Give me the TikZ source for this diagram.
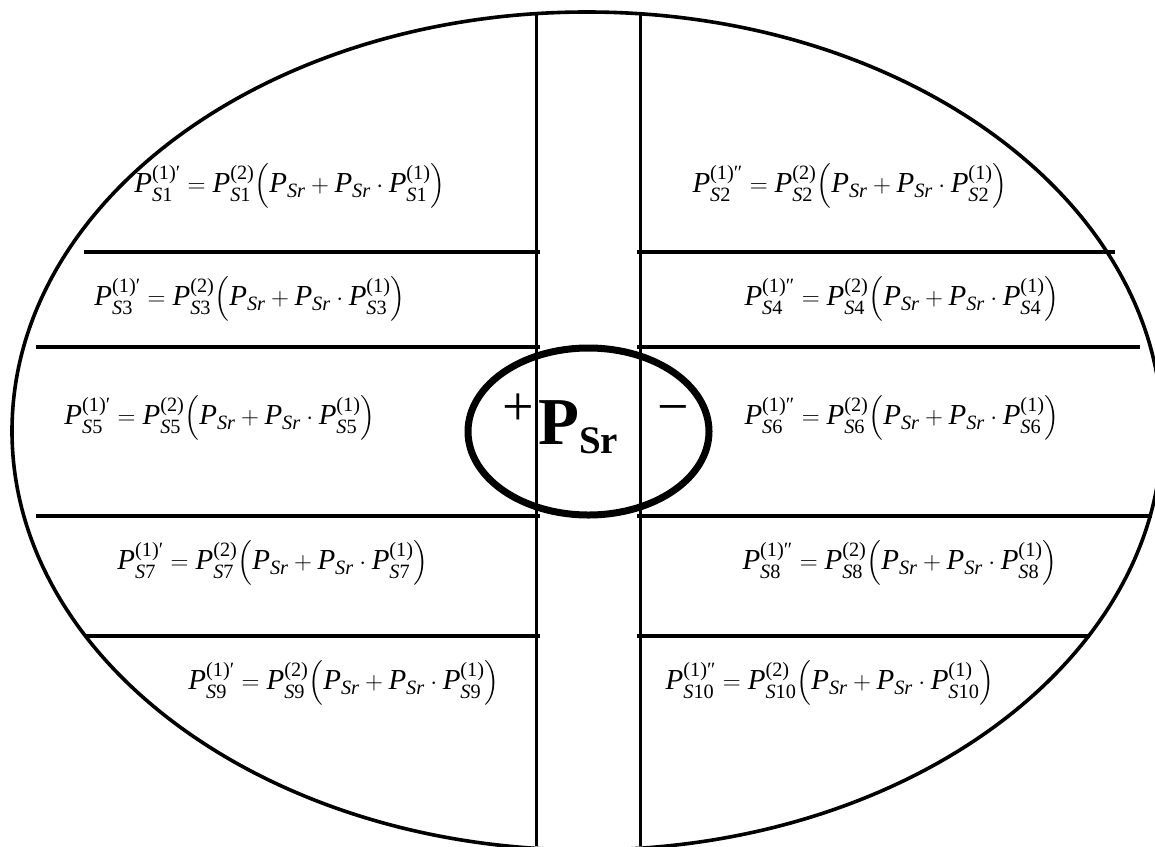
\documentclass[tikz,border=0pt]{standalone}
\usepackage{amsmath}
\usepackage{fontspec}
\setmainfont{Liberation Serif}
\newcommand\mP{\textit{P}}
\newcommand\Sx[1]{\textit{S}\text{#1}}
\newcommand\Srr{\textit{Sr}}
\newcommand\fml[2]{$\mP^{\text{(1)#2}}_{\Sx{#1}}=\mP^{\text{(2)}}_{\Sx{#1}}{\left(\mP_{\Srr}+\mP_{\Srr}\cdot\mP^{\text{(1)}}_{\Sx{#1}}\right)}$}
\tikzset{
  frm/.style={font=\fontsize{29}{33}\selectfont, inner sep=0pt},
  sepline/.style={line width=3.4pt},
  vline/.style={line width=3pt},
  outer/.style={line width=3.6pt},
  inner/.style={line width=7pt},
  sign/.style={inner sep=0pt, font=\fontsize{56}{60}\selectfont},
}
\begin{document}
\begin{tikzpicture}[x=1pt,y=-1pt]
\useasboundingbox (0,0) rectangle (1155,846);
\fill[white] (0,0) rectangle (1155,846);
\begin{scope}
\clip (0,0) rectangle (1155,846);
\draw[outer] (587,431) ellipse [x radius=575, y radius=419];
\draw[vline] (536,12) -- (536,846);
\draw[vline] (640,12) -- (640,846);
\end{scope}
% separators
\draw[sepline] (84,252) -- (540,252);
\draw[sepline] (637,252) -- (1115,252);
\draw[sepline] (36,347) -- (540,347);
\draw[sepline] (637,347) -- (1140,347);
\draw[sepline] (36,516) -- (540,516);
\draw[sepline] (637,516) -- (1152,516);
\draw[sepline] (86,636) -- (540,636);
\draw[sepline] (637,636) -- (1090,636);
% central ellipse
\draw[inner] (588.5,431.5) ellipse [x radius=120.5, y radius=83.5];
\node[sign] (plus) at (518,410) {+};
\node[sign] (minus) at (673,415) {−};
\node[inner sep=0pt, anchor=base west, font=\fontsize{67}{72}\selectfont\bfseries] (psr) at (538,444) {P\raisebox{-9pt}{\fontsize{39}{42}\selectfont Sr}};
% formulas
\node[frm] (l1) at (290,186) {\fml{1}{′}};
\node[frm] (r1) at (850,186) {\fml{2}{″}};
\node[frm] (l2) at (250,299) {\fml{3}{′}};
\node[frm] (r2) at (902,299) {\fml{4}{″}};
\node[frm] (l3) at (220,418) {\fml{5}{′}};
\node[frm] (r3) at (902,418) {\fml{6}{″}};
\node[frm] (l4) at (273,563) {\fml{7}{′}};
\node[frm] (r4) at (900,563) {\fml{8}{″}};
\node[frm] (l5) at (344,683) {\fml{9}{′}};
\node[frm] (r5) at (830,683) {\fml{10}{″}};
\end{tikzpicture}
\end{document}
